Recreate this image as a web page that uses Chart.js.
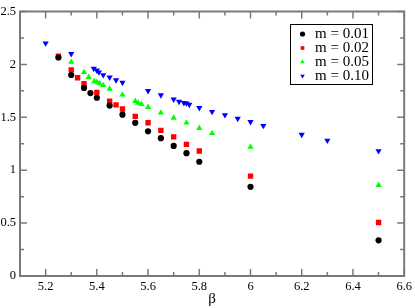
<!DOCTYPE html>
<html>
<head>
<meta charset="utf-8">
<script src="https://cdn.jsdelivr.net/npm/chart.js@4.4.1/dist/chart.umd.min.js"></script>
<style>
  html, body { margin: 0; padding: 0; background: #fff; }
  #wrap { width: 415px; height: 308px; }
</style>
</head>
<body>
<div id="wrap"><canvas id="chart"></canvas></div>
<script>
// beta values and measured values for each mass
const beta001 = [5.25, 5.3, 5.35, 5.375, 5.4, 5.45, 5.5, 5.55, 5.6, 5.65, 5.7, 5.75, 5.8, 6.0, 6.5];
const val001 = [2.065, 1.90, 1.778, 1.729, 1.685, 1.611, 1.525, 1.448, 1.368, 1.303, 1.229, 1.161, 1.08, 0.843, 0.337];

const beta002 = [5.25, 5.3, 5.325, 5.35, 5.4, 5.45, 5.475, 5.5, 5.55, 5.6, 5.65, 5.7, 5.75, 5.8, 6.0, 6.5];
const val002 = [2.078, 1.948, 1.874, 1.818, 1.735, 1.652, 1.618, 1.578, 1.509, 1.448, 1.377, 1.315, 1.244, 1.182, 0.944, 0.506];

const beta005 = [5.3, 5.35, 5.368, 5.39, 5.4, 5.41, 5.425, 5.45, 5.5, 5.55, 5.561, 5.574, 5.6, 5.65, 5.7, 5.75, 5.8, 5.85, 6.0, 6.5];
const val005 = [2.022, 1.926, 1.88, 1.84, 1.833, 1.821, 1.803, 1.769, 1.713, 1.652, 1.636, 1.624, 1.596, 1.543, 1.494, 1.448, 1.398, 1.349, 1.219, 0.858];

const beta010 = [5.2, 5.3, 5.388, 5.4, 5.408, 5.425, 5.45, 5.475, 5.5, 5.6, 5.65, 5.7, 5.721, 5.74, 5.75, 5.761, 5.8, 5.85, 5.9, 5.95, 6.0, 6.05, 6.2, 6.3, 6.5];
const val010 = [2.20, 2.10, 1.96, 1.944, 1.926, 1.90, 1.877, 1.852, 1.828, 1.75, 1.71, 1.67, 1.648, 1.636, 1.633, 1.62, 1.59, 1.553, 1.522, 1.488, 1.457, 1.42, 1.337, 1.281, 1.182];

const seriesLabels = ['m = 0.01', 'm = 0.02', 'm = 0.05', 'm = 0.10'];

// tick values
const xMajor = [5.2, 5.4, 5.6, 5.8, 6.0, 6.2, 6.4, 6.6];
const xMinor = [5.1, 5.3, 5.5, 5.7, 5.9, 6.1, 6.3, 6.5];
const yMajor = [0, 0.5, 1, 1.5, 2, 2.5];
const yMinor = [0.25, 0.75, 1.25, 1.75, 2.25];

const toPoints = (xs, ys) => xs.map((x, i) => ({ x: x, y: ys[i] }));

const axisColor = '#7a7a7a';
const serif = "'Liberation Serif', 'Times New Roman', serif";

// frame + inward ticks on all four sides
const framePlugin = {
    id: 'frame',
    afterDraw(chart) {
        const ctx = chart.ctx;
        const a = chart.chartArea;
        const xs = chart.scales.x, ys = chart.scales.y;
        ctx.save();
        ctx.strokeStyle = axisColor;
        ctx.lineWidth = 2;
        ctx.strokeRect(a.left, a.top, a.right - a.left, a.bottom - a.top);
        ctx.beginPath();
        const tick = (vals, len) => {
            vals.forEach(v => {
                const px = xs.getPixelForValue(v);
                ctx.moveTo(px, a.bottom); ctx.lineTo(px, a.bottom - len);
                ctx.moveTo(px, a.top); ctx.lineTo(px, a.top + len);
            });
        };
        const tickY = (vals, len) => {
            vals.forEach(v => {
                const py = ys.getPixelForValue(v);
                ctx.moveTo(a.left, py); ctx.lineTo(a.left + len, py);
                ctx.moveTo(a.right, py); ctx.lineTo(a.right - len, py);
            });
        };
        tick(xMajor, 7); tick(xMinor, 4);
        tickY(yMajor, 7); tickY(yMinor, 4);
        ctx.lineWidth = 1.5;
        ctx.stroke();
        ctx.restore();
    }
};

// legend box inside the plot, upper right
const legendPlugin = {
    id: 'boxLegend',
    afterDraw(chart) {
        const ctx = chart.ctx;
        const bx = 290.5, by = 24.5, bw = 82, bh = 60;
        ctx.save();
        ctx.fillStyle = '#fff';
        ctx.fillRect(bx, by, bw, bh);
        ctx.strokeStyle = '#000';
        ctx.lineWidth = 1;
        ctx.strokeRect(bx, by, bw, bh);
        ctx.font = '15px ' + serif;
        ctx.textBaseline = 'middle';
        chart.data.datasets.forEach((ds, i) => {
            const y = by + 9.5 + i * 14;
            ctx.fillStyle = ds.backgroundColor;
            ctx.strokeStyle = ds.backgroundColor;
            Chart.helpers.drawPoint(ctx, {
                pointStyle: ds.pointStyle,
                radius: 2.6,
                rotation: ds.rotation || 0,
                borderWidth: 0
            }, bx + 12, y);
            ctx.fillStyle = '#000';
            ctx.fillText(ds.label, bx + 24.5, y + 0.5);
        });
        ctx.restore();
    }
};

const mk = (label, pts, color, style, rot, r) => ({
    label: label,
    data: pts,
    pointStyle: style,
    rotation: rot,
    pointRadius: r,
    pointHoverRadius: r,
    backgroundColor: color,
    borderColor: color,
    borderWidth: 0,
    showLine: false
});

new Chart(document.getElementById('chart').getContext('2d'), {
    type: 'scatter',
    data: {
        datasets: [
            mk(seriesLabels[0], toPoints(beta001, val001), '#000000', 'circle', 0, 3.1),
            mk(seriesLabels[1], toPoints(beta002, val002), '#ff0000', 'rect', 0, 3.8),
            mk(seriesLabels[2], toPoints(beta005, val005), '#00ff00', 'triangle', 0, 3.6),
            mk(seriesLabels[3], toPoints(beta010, val010), '#0000ff', 'triangle', 180, 3.6)
        ]
    },
    options: {
        responsive: true,
        maintainAspectRatio: false,
        animation: false,
        layout: { padding: { top: 6, right: 10, left: 0, bottom: 0 } },
        plugins: {
            legend: { display: false },
            tooltip: { enabled: false }
        },
        scales: {
            x: {
                type: 'linear',
                min: 5.1,
                max: 6.6,
                grid: { display: false, drawTicks: false },
                border: { display: false },
                afterBuildTicks: s => { s.ticks = xMajor.map(v => ({ value: v })); },
                afterFit: s => { s.height = 32; },
                ticks: {
                    color: '#000',
                    padding: 3,
                    maxRotation: 0,
                    autoSkip: false,
                    font: { family: serif, size: 12.5 },
                    callback: v => String(Math.round(v * 10) / 10)
                },
                title: {
                    display: true,
                    text: 'β',
                    color: '#000',
                    font: { family: serif, size: 15 },
                    padding: { top: 0, bottom: 0 }
                }
            },
            y: {
                type: 'linear',
                min: 0,
                max: 2.5,
                grid: { display: false, drawTicks: false },
                border: { display: false },
                afterBuildTicks: s => { s.ticks = yMajor.map(v => ({ value: v })); },
                afterFit: s => { s.width = 20; },
                ticks: {
                    color: '#000',
                    padding: 4,
                    autoSkip: false,
                    font: { family: serif, size: 12.5 },
                    callback: v => String(Math.round(v * 10) / 10)
                }
            }
        }
    },
    plugins: [framePlugin, legendPlugin]
});
</script>
</body>
</html>
